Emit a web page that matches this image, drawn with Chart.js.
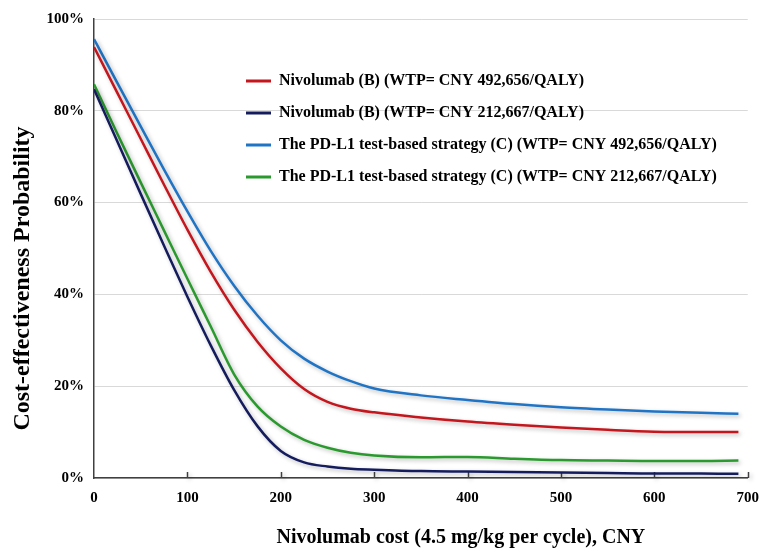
<!DOCTYPE html>
<html>
<head>
<meta charset="utf-8">
<script src="https://cdn.jsdelivr.net/npm/chart.js@4/dist/chart.umd.min.js"></script>
<style>
  html, body { margin: 0; padding: 0; background: #ffffff; }
  #wrap { width: 770px; height: 548px; position: relative; }
</style>
</head>
<body>
<div id="wrap"><canvas id="c" width="770" height="548"></canvas></div>
<script>
// ---- data ----
const costs = [0, 25, 50, 75, 100, 125, 150, 175, 200, 225, 250, 275, 300, 350, 400, 450, 500, 550, 600, 650, 690];
const nivoHigh = [93.9, 83.9, 73.9, 63.9, 54.1, 44.9, 36.7, 29.7, 23.9, 19.4, 16.6, 15.1, 14.3, 13.2, 12.3, 11.6, 11.0, 10.5, 10.1, 10.0, 10.0];
const nivoLow  = [84.7, 73.3, 61.9, 50.6, 39.5, 28.9, 19.2, 11.3, 5.9, 3.4, 2.5, 2.0, 1.8, 1.5, 1.4, 1.3, 1.2, 1.1, 1.0, 1.0, 0.9];
const pdHigh   = [95.6, 86.1, 76.6, 67.2, 58.1, 49.5, 41.9, 35.4, 30.0, 26.0, 23.2, 21.1, 19.5, 18.0, 17.0, 16.1, 15.4, 14.9, 14.5, 14.2, 14.0];
const pdLow    = [85.8, 75.0, 64.4, 53.9, 43.4, 33.0, 22.6, 15.6, 11.2, 8.3, 6.6, 5.5, 4.9, 4.5, 4.6, 4.2, 3.9, 3.8, 3.7, 3.7, 3.8];
const seriesNames = [
  'Nivolumab (B) (WTP= CNY 492,656/QALY)',
  'Nivolumab (B) (WTP= CNY 212,667/QALY)',
  'The PD-L1 test-based strategy (C) (WTP= CNY 492,656/QALY)',
  'The PD-L1 test-based strategy (C) (WTP= CNY 212,667/QALY)'
];
const xTicks = [0, 100, 200, 300, 400, 500, 600, 700];
const yTicks = [0, 20, 40, 60, 80, 100];
const xTitle = 'Nivolumab cost (4.5 mg/kg per cycle), CNY';
const yTitle = 'Cost-effectiveness Probability';

const colors = ['#c4161c', '#141c5e', '#1f74c6', '#2a9a2e'];
const serif = '"Liberation Serif", "Times New Roman", Times, serif';
const NB = '\u00a0';

function pts(ys) { return costs.map((x, i) => ({ x: x, y: ys[i] })); }

const allSeries = [nivoHigh, nivoLow, pdHigh, pdLow];
const datasets = allSeries.map((ys, i) => ({
  label: seriesNames[i],
  data: pts(ys),
  borderColor: colors[i],
  backgroundColor: colors[i],
  borderWidth: 2.5,
  pointRadius: 0,
  fill: false,
  cubicInterpolationMode: 'monotone'
}));

// soft drop shadow under the curves
const shadowPlugin = {
  id: 'shadow',
  beforeDatasetsDraw(chart) {
    const ctx = chart.ctx;
    ctx.save();
    ctx.shadowColor = 'rgba(0,0,0,0.28)';
    ctx.shadowBlur = 4;
    ctx.shadowOffsetX = 2;
    ctx.shadowOffsetY = 2;
  },
  afterDatasetsDraw(chart) { chart.ctx.restore(); }
};

// inward tick marks on the x axis
const innerTicks = {
  id: 'innerTicks',
  beforeDatasetsDraw(chart) {
    const sx = chart.scales.x, area = chart.chartArea, ctx = chart.ctx;
    ctx.save();
    ctx.strokeStyle = '#404040';
    ctx.lineWidth = 1.5;
    sx.ticks.forEach(t => {
      if (t.value === 0) return;
      const px = Math.round(sx.getPixelForValue(t.value)) + 0.5;
      ctx.beginPath();
      ctx.moveTo(px, area.bottom);
      ctx.lineTo(px, area.bottom - 6);
      ctx.stroke();
    });
    ctx.restore();
  }
};

// put the legend box inside the plot area
const legendPlace = {
  id: 'legendPlace',
  afterLayout(chart) {
    const lg = chart.legend;
    if (!lg) return;
    const w = lg.width, h = lg.height;
    lg.left = 230; lg.top = 57;
    lg.right = lg.left + w; lg.bottom = lg.top + h;
  }
};

new Chart(document.getElementById('c'), {
  type: 'line',
  data: { datasets: datasets },
  plugins: [shadowPlugin, innerTicks, legendPlace],
  options: {
    responsive: false,
    animation: false,
    layout: { padding: { top: 18, right: 12, left: 0, bottom: 0 } },
    plugins: {
      legend: {
        position: 'chartArea',
        align: 'start',
        labels: {
          boxWidth: 25,
          boxHeight: 3,
          padding: 16,
          color: '#000',
          font: { family: serif, size: 16, weight: 'bold' },
          generateLabels(chart) {
            const items = Chart.defaults.plugins.legend.labels.generateLabels(chart);
            items.forEach(it => { it.lineWidth = 0; });
            return items;
          }
        }
      },
      tooltip: { enabled: false }
    },
    scales: {
      x: {
        type: 'linear',
        min: 0, max: 700,
        afterBuildTicks(s) { s.ticks = xTicks.map(v => ({ value: v })); },
        afterFit(s) { s.height = 70; },
        grid: { display: false, drawTicks: false },
        border: { display: true, color: '#404040', width: 1.5 },
        ticks: {
          padding: 11,
          color: '#000',
          font: { family: serif, size: 15, weight: 'bold' },
          maxRotation: 0
        },
        title: {
          display: true,
          text: NB.repeat(16) + xTitle,
          color: '#000',
          font: { family: serif, size: 20, weight: 'bold', lineHeight: 1.0 },
          padding: { top: 0, bottom: 0 }
        }
      },
      y: {
        type: 'linear',
        min: 0, max: 100,
        afterBuildTicks(s) { s.ticks = yTicks.map(v => ({ value: v })); },
        afterFit(s) { s.width = 94; },
        grid: { color: '#d9d9d9', lineWidth: 1, drawTicks: false },
        border: { display: true, color: '#404040', width: 1.5 },
        ticks: {
          padding: 10,
          color: '#000',
          font: { family: serif, size: 15, weight: 'bold' },
          callback: v => v + '%'
        },
        title: {
          display: true,
          text: yTitle + NB.repeat(10),
          color: '#000',
          font: { family: serif, size: 24, weight: 'bold', lineHeight: 1.0 },
          padding: { top: 11, bottom: 0 }
        }
      }
    }
  }
});
</script>
</body>
</html>
